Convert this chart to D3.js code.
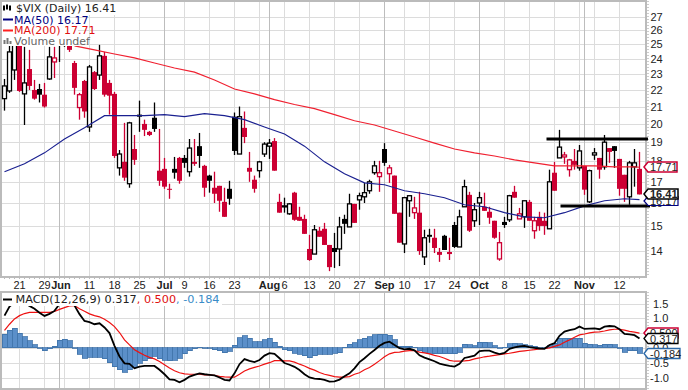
<!DOCTYPE html>
<html><head><meta charset="utf-8">
<script src="https://cdn.jsdelivr.net/npm/d3@7"></script>
<style>html,body{margin:0;padding:0;background:#fff;overflow:hidden}svg{display:block}text{font-family:"DejaVu Sans",Verdana,sans-serif}text.ax{font-family:"Liberation Sans",Arial,sans-serif}</style>
</head><body><svg id="c" width="688" height="390"></svg>
<script>
// 128 sessions, 16 May 2012 to 16 Nov 2012 (index = session number)
const bodyTops=[22.25,24.48,25.33,25.33,22.44,23.33,22,22.06,21.71,24.14,24.07,25.63,25.48,25.33,23.73,21.71,22.56,23.47,23.13,24.21,24.21,22.44,21.76,18.38,17.98,20.06,18.64,20.53,20,19.56,20.35,17.54,17.63,16.67,17.63,18.18,18.18,18.69,17.98,18.79,17.78,17.3,16.72,16.81,16.07,16.67,20.41,20.41,19.78,17.68,17.1,17.98,18.9,18.95,19.06,16.07,15.89,15.98,16.49,15.41,15.32,14.08,14.86,14.82,14.9,14.24,14.12,14.98,15.32,15.98,15.98,16.35,16.49,17,17.78,17.44,18.64,17.68,17.3,15.59,16.26,16.35,15.8,15.59,14.53,14.65,14.53,13.96,14.61,13.96,15.06,15.41,16.77,16.39,15.72,16.26,15.85,15.63,15.24,14.33,15.19,16.35,16.53,15.54,16.12,16.07,15.24,15.41,15.24,17,17.44,18.74,18.33,18.08,18.03,18.54,17.78,17.54,18.44,18.18,19,18.69,18.79,18.13,17.34,17.93,17.93,17.63];
const bodyBottoms=[21.47,21.94,23.27,21.94,21.76,22.25,21.47,21.71,21,22.69,23.8,25.1,25.02,24.62,22.13,20.94,20.71,19.83,22.06,22.94,21.71,21.65,18.28,17.68,17.2,16.91,18.08,20.41,19.67,19.39,19.72,17.05,16.77,16.63,17.44,17.05,17.93,17.49,17.88,18.28,16.72,17.05,16.44,16.12,15.41,16.21,18.54,18.38,19.28,17.49,16.67,17.54,18.38,18.79,17.54,15.59,15.85,15.54,15.28,15.24,14.69,13.65,13.88,14.57,14.24,13.38,13.96,14.08,15.11,14.98,15.15,16.16,16.3,16.58,17.44,17.25,17.93,17.39,15.54,14.33,14.28,16.12,15.59,14,13.77,14.57,14.12,13.85,14.04,13.88,14.16,14.16,15.85,14.82,15.24,16.02,15.67,15.37,14.53,13.69,15.06,15.28,16.26,15.32,15.41,15.24,14.82,15.02,15.02,14.9,16.58,18.18,18.23,17.59,17.83,17.68,16.63,16.07,18.33,17.59,17.73,18.49,18.54,16.67,16.67,16.3,17.73,16.41];
const highs=[22.69,24.9,25.7,25.63,24.83,24.62,22.63,22.38,22.44,24.83,24.83,26.07,25.8,25.7,23.87,21.82,22.63,23.6,23.2,24.97,24.48,22.63,21.88,18.59,20.06,20.12,19.39,21.35,20.24,19.61,21.24,19.72,18.18,16.91,18.23,18.23,18.33,19.17,19.17,19.5,17.83,17.34,17.49,16.81,16.72,17.05,20.65,21,20.71,18.49,17.3,18.03,19,19.17,19.22,16.44,16.26,16.02,16.53,15.85,15.5,14.65,15.06,14.98,15.15,14.24,14.73,15.41,15.5,16.44,15.98,16.49,16.95,17.1,18.03,18.03,18.95,17.83,17.3,15.59,16.3,16.35,16.3,16.53,14.86,14.9,14.9,14.12,14.65,14.53,15.19,15.72,17.1,16.53,16.02,16.53,16.49,15.85,15.24,14.77,15.41,16.39,16.81,15.8,16.12,16.16,15.41,15.63,15.59,17.59,17.98,19.67,18.49,18.13,18.64,18.85,17.78,17.59,18.69,18.18,19.39,18.69,18.79,18.13,17.34,18.03,18.64,18.49];
const lows=[20.76,21.82,22.63,21.88,19.94,22,21.41,21.24,20.94,22.63,22.75,23.8,24.83,24.48,21.71,20.24,20.35,19.56,22,22.63,21.59,20.53,18.18,17.3,17.05,16.72,17.83,19.56,19.33,19.33,19.56,16.81,16.67,16.21,17.15,16.91,17.68,17.25,17.78,17.68,16.3,16.49,16.02,15.63,15.41,15.94,18.33,18.38,18.95,17,16.49,17.2,18.23,18.13,17.54,15.59,15.59,15.5,15.24,15.24,14.69,13.62,13.88,14.57,14.24,13.23,13.35,13.42,14.69,14.98,15.15,15.72,16.02,16.44,17.34,16.53,17.78,16.95,15.54,14.33,13.92,15.41,15.32,13.85,13.46,14.33,13.92,13.58,14.04,13.65,14.12,14.16,15.85,14.77,14.98,15.06,15.67,15.11,14.49,13.62,14.94,15.19,16.26,15.32,14.94,15.24,14.49,14.82,14.65,14.9,16.58,18.18,17.88,17.25,17.59,17.54,16.39,16.02,18.08,17.15,17.59,17.93,17.68,16.35,16.07,15.94,16.77,16.41];
// H hollow black, k filled black, R hollow red, r filled red
const candleStyles="HHHrHrrkrHRHHrrRrHrHrrrHrHrkrrkrrrkrkHrkrkrrrkkHrrrHHHrrHHrrrrHrrrkHkHrHHHHRkRrrHHRrHkrrkrkHHrHHrrrRkHrRHrRrrHrHRRrHrHHrHrkrrHHr";
const ma50Sessions=[0,4,8,12,16,20,24,28,32,36,40,44,48,52,56,60,64,68,72,76,80,84,88,92,96,100,104,108,112,116,120,124,127];
const ma50Values=[17.49,17.88,18.44,19.17,19.78,20.47,20.47,20.47,20.53,20.41,20.59,20.47,20.24,19.83,19.44,18.79,17.98,17.39,16.95,16.86,16.58,16.44,16.26,15.94,15.85,15.59,15.41,15.37,15.59,15.89,16.12,16.21,16.17];
const ma200Sessions=[14,18,22,26,30,34,38,42,46,50,54,58,62,66,70,74,78,82,86,90,94,98,102,106,110,114,118,122,126,127];
const ma200Values=[24.9,24.62,24.34,24.07,23.73,23.4,23.13,22.63,22.06,21.76,21.41,21.12,20.88,20.53,20.18,19.94,19.61,19.28,18.95,18.64,18.44,18.28,18.08,17.93,17.78,17.78,17.78,17.73,17.73,17.71];
const macdValues=[1.09,1.4,1.54,1.59,1.51,1.42,1.32,1.19,1.08,1.15,1.25,1.48,1.57,1.57,1.43,1.14,.91,.87,.8,.83,.69,.5,.07,-.29,-.52,-.54,-.69,-.63,-.61,-.61,-.61,-.74,-.89,-1.06,-1.08,-1.16,-1.08,-.97,-.91,-.86,-.89,-.91,-.93,-1,-1.08,-1.1,-.86,-.55,-.38,-.44,-.48,-.41,-.26,-.18,-.2,-.35,-.51,-.57,-.64,-.75,-.89,-1,-1.04,-1.05,-1.08,-1.14,-1.13,-1.07,-.96,-.86,-.69,-.48,-.35,-.2,-.07,.07,.17,.21,.1,-.01,-.05,-.03,-.08,-.25,-.33,-.39,-.45,-.53,-.57,-.61,-.63,-.54,-.34,-.3,-.26,-.11,-.09,-.09,-.16,-.21,-.17,-.03,.02,.05,.07,.03,0,-.02,-.03,.1,.16,.41,.55,.6,.63,.72,.64,.65,.66,.63,.72,.74,.73,.63,.47,.46,.43,.317];
const signalValues=[.59,.8,.98,1.09,1.16,1.2,1.2,1.2,1.2,1.2,1.23,1.3,1.36,1.42,1.43,1.32,1.24,1.15,1.09,1.05,.97,.86,.72,.52,.27,.1,-.06,-.16,-.25,-.32,-.37,-.46,-.57,-.68,-.77,-.84,-.88,-.89,-.89,-.89,-.91,-.91,-.93,-.96,-.98,-.99,-.99,-.89,-.78,-.71,-.66,-.61,-.55,-.5,-.43,-.43,-.44,-.44,-.48,-.55,-.61,-.69,-.75,-.83,-.89,-.93,-.97,-.99,-.99,-.97,-.89,-.84,-.74,-.66,-.55,-.43,-.3,-.2,-.15,-.14,-.11,-.09,-.09,-.14,-.17,-.2,-.25,-.29,-.35,-.42,-.45,-.45,-.44,-.42,-.37,-.34,-.3,-.28,-.25,-.23,-.2,-.18,-.15,-.12,-.1,-.08,-.06,-.03,-.02,0,.05,.1,.19,.27,.36,.44,.47,.51,.53,.54,.57,.61,.63,.63,.6,.56,.53,.5];
const histValues=[.46,.59,.66,.5,.38,.24,.1,.01,-.1,-.03,.06,.26,.3,.24,0,-.21,-.35,-.32,-.32,-.32,-.37,-.5,-.63,-.74,-.82,-.74,-.65,-.52,-.44,-.37,-.29,-.37,-.42,-.44,-.42,-.35,-.2,-.09,-.03,.03,.01,-.01,-.07,-.1,-.16,-.12,.09,.34,.41,.33,.2,.2,.28,.32,.19,.05,-.07,-.1,-.18,-.21,-.26,-.33,-.27,-.21,-.21,-.21,-.18,-.16,.02,.12,.18,.27,.33,.38,.45,.46,.46,.42,.27,.06,.06,.06,.02,-.09,-.15,-.18,-.2,-.2,-.2,-.2,-.2,-.14,.12,.1,.08,.19,.19,.17,.07,-.01,.03,.14,.16,.14,.11,.08,.06,.01,-.02,.07,.15,.32,.33,.33,.32,.32,.15,.12,.11,.09,.12,.12,.1,-.02,-.14,-.1,-.1,-.184];
const priceTicks=[14,15,16,17,18,19,20,21,22,23,24,25,26,27];
const macdTicks=[-1,-.5,0,.5,1,1.5];
// [session, label, major]
const dateTicks=[[3,"21",0],[8,"29",0],[11,"Jun",1],[12,"",0],[17,"11",0],[22,"18",0],[27,"25",0],[32,"Jul",1],[36,"9",0],[41,"16",0],[46,"23",0],[51,"",0],[53,"Aug",1],[56,"6",0],[61,"13",0],[66,"20",0],[71,"27",0],[76,"Sep",1],[80,"10",0],[85,"17",0],[90,"24",0],[95,"Oct",1],[100,"8",0],[105,"15",0],[110,"22",0],[115,"",0],[116,"Nov",1],[118,"",0],[123,"12",0]];
const rangeLevels=[19.17,15.89];

const RED="#cc0033",NAVY="#000080",BLUE="#2a68a8",GRID="#dcdcdc",DARK="#bdbdbd";
const svg=d3.select("#c");
const L=1,R=646,PT=1,PB=277,MT=292,MB=389;
const x=d3.scaleLinear().domain([0,127]).range([4.5,639.5]);
const y=d3.scaleLog().domain([14,27]).range([251,17]);
const m=d3.scaleLinear().domain([-1,1.5]).range([377.5,303.5]);
const n=128;

function grid(top,bottom,ys){
  const g=svg.append("g").attr("shape-rendering","crispEdges");
  ys.forEach(v=>g.append("line").attr("x1",L).attr("x2",R).attr("y1",Math.round(v)+.5).attr("y2",Math.round(v)+.5).attr("stroke",GRID).attr("stroke-width",1.5));
  dateTicks.forEach(t=>g.append("line").attr("x1",x(t[0])).attr("x2",x(t[0])).attr("y1",top).attr("y2",bottom).attr("stroke",t[2]?DARK:GRID).attr("stroke-width",1.5));
  g.append("rect").attr("x",L).attr("y",top).attr("width",R-L).attr("height",bottom-top).attr("fill","none").attr("stroke","#bbb").attr("stroke-width",1.5);
  // dotted axis ticks beside the right edge
  d3.range(top,bottom,3).forEach(v=>g.append("rect").attr("x",R+1).attr("y",v).attr("width",2).attr("height",1).attr("fill","#ccc"));
}
grid(PT,PB,priceTicks.map(y));
grid(MT,MB,macdTicks.map(m));

// bottom minor ticks of the price panel
const tk=svg.append("g").attr("shape-rendering","crispEdges");
d3.range(n).forEach(i=>tk.append("line").attr("x1",x(i)).attr("x2",x(i)).attr("y1",PB).attr("y2",PB+2).attr("stroke","#bbb"));

// candles
const cg=svg.append("g");
d3.range(n).forEach(i=>{
  const s=candleStyles[i],col=(s==="r"||s==="R")?RED:"#000",hollow=(s==="H"||s==="R");
  const cx=x(i);
  cg.append("line").attr("x1",cx).attr("x2",cx).attr("y1",y(highs[i])).attr("y2",y(lows[i])).attr("stroke",col).attr("stroke-width",1.3);
  const t=y(bodyTops[i]),b=y(bodyBottoms[i]);
  if(hollow) cg.append("rect").attr("x",cx-2).attr("y",t).attr("width",4).attr("height",Math.max(b-t,1)).attr("fill","#fff").attr("stroke",col).attr("stroke-width",1.3);
  else cg.append("rect").attr("x",cx-2.5).attr("y",t).attr("width",5).attr("height",Math.max(b-t,1)).attr("fill",col);
});
// moving averages
const lineIdx=(sess,vals,sc)=>d3.line().x((d,i)=>x(sess[i])).y(d=>sc(d))(vals);
svg.append("path").attr("d",lineIdx(ma200Sessions,ma200Values,y)).attr("fill","none").attr("stroke","#f02030").attr("stroke-width",1.15);
svg.append("path").attr("d",lineIdx(ma50Sessions,ma50Values,y)).attr("fill","none").attr("stroke","#1a2090").attr("stroke-width",1.15);

// MACD histogram and lines
const hg=svg.append("g").attr("shape-rendering","crispEdges");
histValues.forEach((v,i)=>{const a=m(Math.max(v,0)),b=m(Math.min(v,0));
  hg.append("rect").attr("x",x(i)-2.5).attr("y",a).attr("width",5).attr("height",Math.max(b-a,.5)).attr("fill","#5b8fc9").attr("stroke","#3d70a8").attr("stroke-width",.8);});
const ln=d3.line().x((d,i)=>x(i)).y(d=>m(d));
svg.append("path").attr("d",ln(signalValues)).attr("fill","none").attr("stroke","#ee1111").attr("stroke-width",1.2);
svg.append("path").attr("d",ln(macdValues)).attr("fill","none").attr("stroke","#000").attr("stroke-width",1.8);

// axis labels
const FS=11;
priceTicks.forEach(v=>svg.append("text").attr("class","ax").attr("x",650.5).attr("y",y(v)+4).attr("font-size",FS).attr("fill","#222").text(v));
macdTicks.forEach(v=>svg.append("text").attr("class","ax").attr("x",v<0?650:653).attr("y",m(v)+4).attr("font-size",FS).attr("fill","#222").text(v.toFixed(1)));
dateTicks.forEach(t=>{ if(!t[1])return;
  svg.append("text").attr("class","ax").attr("x",x(t[0])+(t[1]==="Jun"?1.5:0)).attr("y",289).attr("text-anchor","middle")
   .attr("font-size",FS).attr("font-weight",t[2]?"bold":"normal").attr("fill","#222").text(t[1]);});

// range annotation lines
svg.append("line").attr("x1",x(108.4)).attr("x2",648).attr("y1",y(rangeLevels[0])).attr("y2",y(rangeLevels[0])).attr("stroke","#000").attr("stroke-width",3);
svg.append("line").attr("x1",x(111.2)).attr("x2",650).attr("y1",y(rangeLevels[1])).attr("y2",y(rangeLevels[1])).attr("stroke","#000").attr("stroke-width",3);

// value tags
function tag(sc,val,label,col,opt){opt=opt||{};
  const cy=(opt.cy!=null?opt.cy:sc(val)),h=opt.h||10,w=opt.w||33,x0=644;
  svg.append("path").attr("d",`M${x0},${cy} L${x0+4},${cy-h/2} H${x0+w} V${cy+h/2} H${x0+4} Z`).attr("fill","#fff").attr("stroke",col).attr("stroke-width",opt.sw||1.5);
  svg.append("text").attr("class","ax").attr("x",x0+6).attr("y",cy+4).attr("font-size",11).attr("font-weight",opt.bold?"bold":"normal").attr("fill",opt.tc||"#222").text(label);
}
tag(y,16.17,"16.17",NAVY,{cy:201,h:9,w:34,sw:1.2});
tag(y,17.71,"17.71",RED,{cy:167});
tag(y,16.41,"16.41","#000",{cy:194,bold:true,w:34});
tag(m,.5,"0.500",RED,{cy:333,w:34});
tag(m,.317,"0.317","#000",{cy:338.5,w:34,sw:1.3});
tag(m,-.184,"-0.184",BLUE,{cy:353.5,w:36,sw:1.3});

// legends
const lg=svg.append("g");
lg.append("rect").attr("x",2).attr("y",2).attr("width",118).attr("height",13).attr("fill","#fff");
lg.append("rect").attr("x",2).attr("y",15).attr("width",64).attr("height",11).attr("fill","#fff");
lg.append("rect").attr("x",2).attr("y",26).attr("width",76).attr("height",11).attr("fill","#fff");
lg.append("rect").attr("x",2).attr("y",36).attr("width",76).attr("height",10).attr("fill","#fff");
const tx=(xx,yy,s,c)=>lg.append("text").attr("x",xx).attr("y",yy).attr("font-size",11).attr("fill",c).text(s);
tx(16,12,"$VIX (Daily) 16.41","#222");
tx(14,24,"MA(50) 16.17",NAVY);
tx(14,34,"MA(200) 17.71","#e01010");
tx(14,45,"Volume undef","#666");
[[4,5,11],[7,4,10],[10,5,11]].forEach(d=>{lg.append("line").attr("x1",d[0]).attr("x2",d[0]).attr("y1",d[1]).attr("y2",d[2]).attr("stroke","#000");lg.append("rect").attr("x",d[0]-1).attr("y",d[1]+1).attr("width",2).attr("height",4).attr("fill","#000");});
lg.append("line").attr("x1",3).attr("x2",13).attr("y1",19.5).attr("y2",19.5).attr("stroke",NAVY).attr("stroke-width",2);
lg.append("line").attr("x1",3).attr("x2",13).attr("y1",30.5).attr("y2",30.5).attr("stroke","#ff2020").attr("stroke-width",2);
[[3,4],[6,6],[9,3]].forEach(d=>lg.append("rect").attr("x",d[0]+.5).attr("y",44-d[1]*1).attr("width",2).attr("height",d[1]).attr("fill","#777"));

lg.append("rect").attr("x",2).attr("y",293).attr("width",220).attr("height",13).attr("fill","#fff");
lg.append("line").attr("x1",3).attr("x2",12).attr("y1",299.5).attr("y2",299.5).attr("stroke","#000").attr("stroke-width",2);
const mt=lg.append("text").attr("x",15.5).attr("y",303).attr("font-size",11.25);
mt.append("tspan").attr("fill","#222").text("MACD(12,26,9) 0.317");
mt.append("tspan").attr("fill","#e01010").text(", 0.500");
mt.append("tspan").attr("fill","#3a8cc8").text(", -0.184");
</script></body></html>
